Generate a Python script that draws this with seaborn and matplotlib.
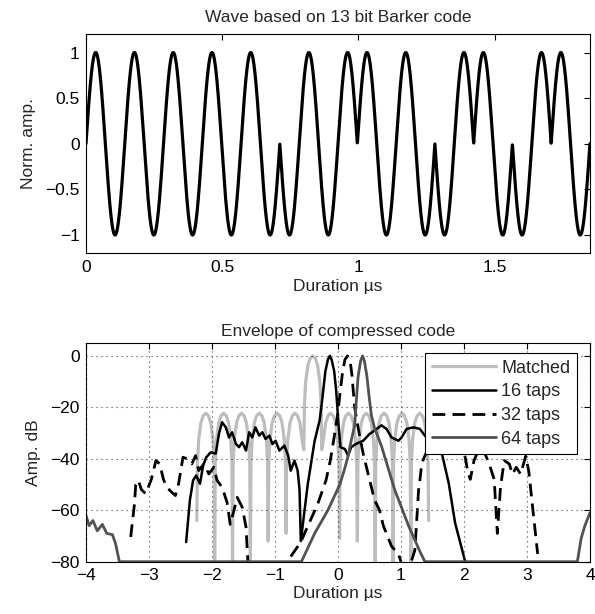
import numpy as np
import pandas as pd
import matplotlib
matplotlib.use("Agg")
import matplotlib.pyplot as plt
import seaborn as sns
from matplotlib.lines import Line2D

# ---------------- data ----------------
barker13 = [1, 1, 1, 1, 1, -1, -1, 1, 1, -1, 1, -1, 1]
chip_us = 0.1423            # one carrier cycle per chip
top_xticks = [0, 0.5, 1, 1.5]
top_yticks = [-1, -0.5, 0, 0.5, 1]

# matched filter envelope (dB)
matched_x = [-2.240,
             -2.230, -2.211, -2.176, -2.140, -2.098, -2.056, -2.020, -1.985, -1.966, -1.957,
             -1.947, -1.928, -1.893, -1.857, -1.815, -1.773, -1.737, -1.702, -1.683, -1.674,
             -1.664, -1.645, -1.610, -1.574, -1.532, -1.490, -1.454, -1.419, -1.400, -1.391,
             -1.381, -1.362, -1.327, -1.291, -1.249, -1.207, -1.171, -1.136, -1.117, -1.108,
             -1.098, -1.079, -1.044, -1.008, -0.966, -0.924, -0.888, -0.853, -0.834, -0.825,
             -0.815, -0.796, -0.761, -0.725, -0.683, -0.641, -0.605, -0.570, -0.542,
             -0.532, -0.513, -0.478, -0.442, -0.400, -0.358, -0.322, -0.287, -0.268, -0.258,
             -0.230, -0.195, -0.159, -0.117, -0.075, -0.039, -0.004, 0.015, 0.025,
             0.034, 0.053, 0.088, 0.124, 0.166, 0.208, 0.244, 0.279, 0.298, 0.308,
             0.317, 0.336, 0.371, 0.407, 0.449, 0.491, 0.527, 0.562, 0.581, 0.591,
             0.600, 0.619, 0.654, 0.690, 0.732, 0.774, 0.810, 0.845, 0.864, 0.874,
             0.883, 0.902, 0.937, 0.973, 1.015, 1.057, 1.093, 1.128, 1.147, 1.157,
             1.166, 1.185, 1.220, 1.256, 1.298, 1.340, 1.376, 1.411, 1.430, 1.440]
matched_y = [-64,
             -41.5, -32.5, -26, -23.3, -22.3, -23.3, -26, -32.5, -41.5, -80,
             -41.5, -32.5, -26, -23.3, -22.3, -23.3, -26, -32.5, -41.5, -80,
             -41.5, -32.5, -26, -23.3, -22.3, -23.3, -26, -32.5, -41.5, -80,
             -41.5, -32.5, -26, -23.3, -22.3, -23.3, -26, -32.5, -41.5, -72,
             -41.5, -32.5, -26, -23.3, -22.3, -23.3, -26, -32.5, -41.5, -69,
             -41.5, -32.5, -26, -23.3, -22.3, -23.3, -26, -32.5, -36.5,
             -19.2, -10.2, -3.75, -1.0, 0, -1.0, -3.75, -10.2, -19.2, -36.5,
             -32.5, -26, -23.3, -22.3, -23.3, -26, -32.5, -41.5, -71,
             -41.5, -32.5, -26, -23.3, -22.3, -23.3, -26, -32.5, -41.5, -72,
             -41.5, -32.5, -26, -23.3, -22.3, -23.3, -26, -32.5, -41.5, -80,
             -41.5, -32.5, -26, -23.3, -22.3, -23.3, -26, -32.5, -41.5, -80,
             -41.5, -32.5, -26, -23.3, -22.3, -23.3, -26, -32.5, -41.5, -80,
             -41.5, -32.5, -26, -23.3, -22.3, -23.3, -26, -32.5, -41.5, -64]

# 16 taps mismatched filter
taps16_x = [-2.41, -2.35, -2.30, -2.25, -2.19, -2.14, -2.09, -2.02, -1.94, -1.89,
            -1.84, -1.78, -1.73, -1.68, -1.62, -1.57, -1.52, -1.46, -1.41, -1.36,
            -1.31, -1.25, -1.20, -1.15, -1.09, -1.04, -0.99, -0.93, -0.85, -0.79,
            -0.75, -0.69, -0.64, -0.61, -0.59, -0.48, -0.37, -0.29, -0.25, -0.20,
            -0.16, -0.13, -0.10, -0.06, -0.03, -0.01, 0.01, 0.04, 0.11, 0.16,
            0.21, 0.29, 0.40, 0.50, 0.58, 0.69, 0.77, 0.85, 0.96, 1.01,
            1.09, 1.20, 1.30, 1.38, 1.45, 1.55, 1.65, 1.76, 1.86, 2.02]
taps16_y = [-72.4, -56, -48.4, -46.5, -49.7, -42.6, -39.4, -37.5, -38, -30.4,
            -25.8, -27.8, -31.7, -29.7, -34.2, -35.5, -33.6, -36.8, -29.7, -31.7,
            -27.8, -31, -29.7, -32.3, -31, -34.3, -33, -36.8, -34.9, -38.8,
            -44.6, -40.7, -44.6, -52, -72, -50, -33, -25, -17, -6,
            -1.5, 0, -1.5, -6, -13, -20, -27, -35.5, -36.2, -38.8,
            -35.5, -34.2, -33, -30.4, -29, -27, -28.4, -31.7, -33, -31.7,
            -28.4, -27.8, -28.4, -31, -33, -35, -38, -49.7, -65, -80]

# 32 taps mismatched filter (three separate pieces)
taps32_left_x = [-3.29, -3.23, -3.21, -3.17, -3.12, -3.05, -2.96, -2.89, -2.83, -2.77,
                 -2.72, -2.64, -2.58, -2.53, -2.46, -2.40, -2.32, -2.26, -2.21, -2.13,
                 -2.05, -1.97, -1.92, -1.84, -1.76, -1.71, -1.65, -1.60, -1.52, -1.46, -1.43]
taps32_left_y = [-70.4, -57.5, -50, -48.4, -52, -53.6, -47.8, -40.7, -42, -48,
                 -51, -53, -54.3, -49.7, -39.4, -40, -42, -38.8, -44.6, -42,
                 -45.9, -43.3, -48.4, -51, -57, -65.5, -60, -55, -58.8, -66.5, -80]
taps32_main_x = [-0.75, -0.59, -0.53, -0.32, -0.19, -0.12, -0.05, 0.00, 0.03, 0.07,
                 0.11, 0.15, 0.19, 0.22, 0.265, 0.32, 0.40, 0.48, 0.58, 0.66,
                 0.72, 0.85, 0.96, 1.00]
taps32_main_y = [-78, -72.4, -69, -57.5, -48.4, -40.5, -30, -22, -15, -7,
                 -1.5, 0, -1.5, -7, -20, -28, -38, -46, -56, -60,
                 -66, -74, -77, -80]
taps32_right_x = [1.17, 1.22, 1.25, 1.28, 1.30, 1.33, 1.36, 1.45, 1.60, 1.75,
                  1.90, 1.97, 2.02, 2.06, 2.10, 2.16, 2.24, 2.30, 2.40, 2.48,
                  2.53, 2.58, 2.64, 2.72, 2.77, 2.83, 2.90, 2.98, 3.03, 3.09, 3.17]
taps32_right_y = [-79.5, -75.6, -64, -52, -48.4, -42, -40, -35, -33, -33,
                  -35, -37, -39.4, -45, -48, -40.7, -36, -36, -42, -48,
                  -69, -51, -40.7, -42, -46, -43.3, -46, -39, -45, -58.8, -77]

# 64 taps mismatched filter
taps64_x = [-4.00, -3.95, -3.89, -3.82, -3.74, -3.67, -3.58, -3.53, -3.47, -0.58,
            -0.37, -0.16, 0.03, 0.105, 0.16, 0.21, 0.265, 0.29, 0.32, 0.36,
            0.39, 0.42, 0.46, 0.50, 0.53, 0.58, 0.69, 0.90, 1.12, 1.30,
            1.38, 3.80, 3.86, 3.92, 4.00]
taps64_y = [-62, -66, -64, -68, -65.5, -69, -69.5, -73, -80, -80,
            -69, -60, -50, -44, -39, -33, -27, -18, -8, -2,
            0, -2, -8, -17, -23, -28, -35, -52, -66, -76,
            -80, -80, -71, -66, -61]

bottom_xticks = [-4, -3, -2, -1, 0, 1, 2, 3, 4]
bottom_yticks = [-80, -60, -40, -20, 0]
legend_labels = ["Matched", "16 taps", "32 taps", "64 taps"]

# ---------------- style ----------------
FS = 12.5
sns.set_theme(style="white")
plt.rcParams["font.family"] = ["Liberation Sans", "DejaVu Sans"]
plt.rcParams["font.size"] = FS
plt.rcParams["axes.linewidth"] = 0.8
plt.rcParams["axes.edgecolor"] = "black"

fig = plt.figure(figsize=(5.95, 6.14), dpi=100)
ax1 = fig.add_axes([0.1445, 0.5875, 0.847, 0.3567])
ax2 = fig.add_axes([0.1445, 0.0852, 0.847, 0.3562])

# ---------------- top panel ----------------
t = np.linspace(0, len(barker13) * chip_us, 3001)
idx = np.minimum((t / chip_us).astype(int), len(barker13) - 1)
wave = np.array(barker13)[idx] * np.sin(2 * np.pi * t / chip_us)
df_wave = pd.DataFrame({"t": t, "a": wave})
sns.lineplot(data=df_wave, x="t", y="a", ax=ax1, color="black", lw=2.3,
             estimator=None, sort=False)
ax1.set_xlim(0, len(barker13) * chip_us)
ax1.set_ylim(-1.2, 1.2)
ax1.set_xticks(top_xticks)
ax1.set_xticklabels(["0", "0.5", "1", "1.5"])
ax1.set_yticks(top_yticks)
ax1.set_yticklabels(["\u22121", "\u22120.5", "0", "0.5", "1"])
ax1.set_xlabel("Duration \u00b5s", fontsize=FS, labelpad=3)
ax1.set_ylabel("Norm. amp.", fontsize=FS, labelpad=7)
ax1.set_title("Wave based on 13 bit Barker code", fontsize=FS, pad=9)

# ---------------- bottom panel ----------------
matched_c = "#bdbdbd"
c64 = "#525252"
dash = (0, (4.6, 2.6))

def draw(xs, ys, **kw):
    d = pd.DataFrame({"x": xs, "y": ys})
    sns.lineplot(data=d, x="x", y="y", ax=ax2, estimator=None, sort=False, **kw)

draw(matched_x, matched_y, color=matched_c, lw=2.3)
draw(taps16_x, taps16_y, color="black", lw=1.8)
draw(taps32_left_x, taps32_left_y, color="black", lw=2.0, linestyle=dash)
draw(taps32_main_x, taps32_main_y, color="black", lw=2.0, linestyle=dash)
draw(taps32_right_x, taps32_right_y, color="black", lw=2.0, linestyle=dash)
draw(taps64_x, taps64_y, color=c64, lw=2.0)

ax2.set_xlim(-4, 4)
ax2.set_ylim(-80, 5)
ax2.set_xticks(bottom_xticks)
ax2.set_xticklabels([("\u2212" + str(-v)) if v < 0 else str(v) for v in bottom_xticks])
ax2.set_yticks(bottom_yticks)
ax2.set_yticklabels([("\u2212" + str(-v)) if v < 0 else str(v) for v in bottom_yticks])
ax2.grid(True, color="0.25", linestyle=(0, (1, 3.5)), linewidth=0.8)
ax2.set_xlabel("Duration \u00b5s", fontsize=FS, labelpad=2)
ax2.set_ylabel("Amp. dB", fontsize=FS, labelpad=7)
ax2.set_title("Envelope of compressed code", fontsize=FS, pad=5)

handles = [Line2D([], [], color=matched_c, lw=2.3),
           Line2D([], [], color="black", lw=1.8),
           Line2D([], [], color="black", lw=2.0, linestyle=dash),
           Line2D([], [], color=c64, lw=2.0)]
leg = ax2.legend(handles, legend_labels, loc="upper right",
                 bbox_to_anchor=(0.974, 0.954), borderaxespad=0,
                 fontsize=13, frameon=True, fancybox=False, framealpha=1,
                 edgecolor="black", handlelength=3.55, handletextpad=0.3,
                 labelspacing=0.37, borderpad=0.36)
leg.get_frame().set_linewidth(0.8)

for ax in (ax1, ax2):
    ax.tick_params(direction="in", top=True, right=True, length=4, width=0.8,
                   labelsize=FS, colors="black", pad=4.5)
    for s in ax.spines.values():
        s.set_visible(True)
        s.set_color("black")
        s.set_linewidth(0.8)
    ax.set_axisbelow(False)

fig.savefig("out.png", dpi=100)
